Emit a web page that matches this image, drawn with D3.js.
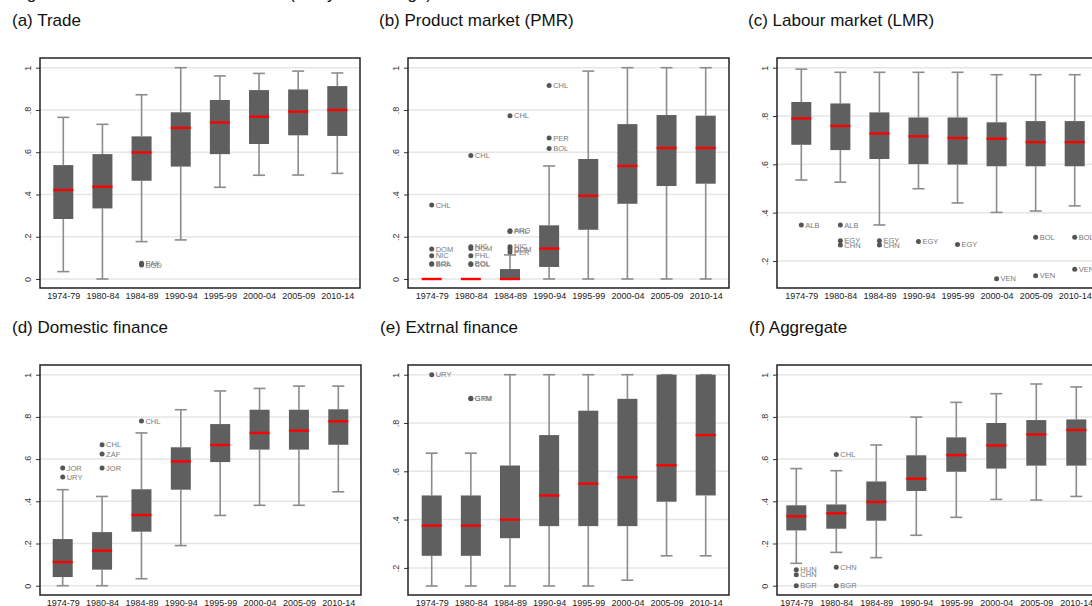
<!DOCTYPE html>
<html>
<head>
<meta charset="utf-8">
<script src="https://cdn.jsdelivr.net/npm/d3@7"></script>
<style>
  body { margin: 0; background: #fff; }
  svg { display: block; }
  text { font-family: "Liberation Sans", Arial, Helvetica, sans-serif; }
</style>
</head>
<body>
<div id="Vis"></div>
<script>
// periods on the x axis
var periods = ["1974-79", "1980-84", "1984-89", "1990-94", "1995-99", "2000-04", "2005-09", "2010-14"];

// box stats per period: [lower whisker, q1, median, q3, upper whisker]
var trade = [
  [0.035, 0.284, 0.421, 0.539, 0.765],
  [0.000, 0.334, 0.437, 0.591, 0.732],
  [0.177, 0.465, 0.599, 0.675, 0.872],
  [0.185, 0.532, 0.715, 0.789, 1.000],
  [0.434, 0.591, 0.741, 0.847, 0.961],
  [0.491, 0.639, 0.768, 0.894, 0.973],
  [0.492, 0.680, 0.792, 0.897, 0.984],
  [0.500, 0.677, 0.800, 0.913, 0.975]
];
var tradeOut = [["1984-89", 0.075, "PAK"], ["1984-89", 0.066, "BGD"]];

var pmr = [
  [0, 0, 0, 0, 0],
  [0, 0, 0, 0, 0],
  [0, 0, 0, 0.047, 0.114],
  [0, 0.057, 0.144, 0.254, 0.535],
  [0, 0.233, 0.394, 0.568, 0.984],
  [0, 0.356, 0.535, 0.733, 1.000],
  [0, 0.440, 0.620, 0.776, 1.000],
  [0, 0.451, 0.620, 0.773, 1.000]
];
var pmrOut = [
  ["1974-79", 0.350, "CHL"], ["1974-79", 0.142, "DOM"], ["1974-79", 0.110, "NIC"],
  ["1974-79", 0.072, "BOL"], ["1974-79", 0.070, "BRA"],
  ["1980-84", 0.585, "CHL"], ["1980-84", 0.153, "NIC"], ["1980-84", 0.144, "DOM"],
  ["1980-84", 0.110, "PHL"], ["1980-84", 0.072, "BOL"], ["1980-84", 0.069, "COL"],
  ["1984-89", 0.773, "CHL"], ["1984-89", 0.228, "ARG"], ["1984-89", 0.225, "PHL"],
  ["1984-89", 0.153, "NIC"], ["1984-89", 0.142, "DOM"], ["1984-89", 0.128, "PER"],
  ["1990-94", 0.916, "CHL"], ["1990-94", 0.667, "PER"], ["1990-94", 0.618, "BOL"]
];

var lmr = [
  [0.535, 0.681, 0.790, 0.858, 0.994],
  [0.526, 0.659, 0.759, 0.852, 0.981],
  [0.349, 0.622, 0.728, 0.815, 0.981],
  [0.499, 0.601, 0.716, 0.794, 0.981],
  [0.440, 0.599, 0.709, 0.794, 0.981],
  [0.401, 0.592, 0.706, 0.774, 0.971],
  [0.407, 0.592, 0.692, 0.779, 0.971],
  [0.428, 0.592, 0.692, 0.779, 0.971]
];
var lmrOut = [
  ["1974-79", 0.349, "ALB"],
  ["1980-84", 0.349, "ALB"], ["1980-84", 0.284, "EGY"], ["1980-84", 0.266, "CHN"],
  ["1984-89", 0.284, "EGY"], ["1984-89", 0.266, "CHN"],
  ["1990-94", 0.281, "EGY"],
  ["1995-99", 0.268, "EGY"],
  ["2000-04", 0.126, "VEN"],
  ["2005-09", 0.298, "BOL"], ["2005-09", 0.139, "VEN"],
  ["2010-14", 0.298, "BOL"], ["2010-14", 0.166, "VEN"]
];

var domFin = [
  [0.000, 0.041, 0.112, 0.221, 0.455],
  [0.000, 0.076, 0.166, 0.254, 0.423],
  [0.033, 0.256, 0.335, 0.457, 0.724],
  [0.190, 0.455, 0.589, 0.656, 0.834],
  [0.333, 0.586, 0.667, 0.766, 0.923],
  [0.381, 0.645, 0.724, 0.834, 0.935],
  [0.381, 0.645, 0.735, 0.834, 0.946],
  [0.445, 0.668, 0.779, 0.836, 0.946]
];
var domFinOut = [
  ["1974-79", 0.558, "JOR"], ["1974-79", 0.515, "URY"],
  ["1980-84", 0.668, "CHL"], ["1980-84", 0.624, "ZAF"], ["1980-84", 0.558, "JOR"],
  ["1984-89", 0.780, "CHL"]
];

var extFin = [
  [0.125, 0.250, 0.375, 0.500, 0.675],
  [0.125, 0.250, 0.375, 0.500, 0.675],
  [0.125, 0.323, 0.400, 0.624, 1.000],
  [0.125, 0.373, 0.500, 0.750, 1.000],
  [0.125, 0.373, 0.549, 0.851, 1.000],
  [0.149, 0.373, 0.575, 0.900, 1.000],
  [0.250, 0.474, 0.625, 1.000, 1.000],
  [0.250, 0.500, 0.750, 1.000, 1.000]
];
var extFinOut = [["1974-79", 1.000, "URY"], ["1980-84", 0.902, "GRM"], ["1980-84", 0.900, "GTM"]];

var aggregate = [
  [0.106, 0.262, 0.329, 0.381, 0.555],
  [0.158, 0.270, 0.343, 0.385, 0.545],
  [0.133, 0.308, 0.397, 0.494, 0.667],
  [0.239, 0.449, 0.507, 0.618, 0.799],
  [0.324, 0.540, 0.619, 0.703, 0.869],
  [0.409, 0.555, 0.665, 0.771, 0.910],
  [0.406, 0.569, 0.717, 0.785, 0.956],
  [0.423, 0.569, 0.738, 0.788, 0.942]
];
var aggregateOut = [
  ["1974-79", 0.076, "HUN"], ["1974-79", 0.052, "CHN"], ["1974-79", 0.000, "BGR"],
  ["1980-84", 0.622, "CHL"], ["1980-84", 0.087, "CHN"], ["1980-84", 0.000, "BGR"]
];

var yTicks = [0, 0.2, 0.4, 0.6, 0.8, 1];

// panel layout (pixel frame of each plot region)
var panels = [
  {title: "(a) Trade", stats: trade, out: tradeOut,
   tx: 12, ty: 26, left: 40, right: 360, top: 58, bottom: 288, x0: 63.3, x1: 337.3, y0: 279, y1: 67.7},
  {title: "(b) Product market (PMR)", stats: pmr, out: pmrOut,
   tx: 379, ty: 26, left: 408, right: 729, top: 58, bottom: 288, x0: 431.7, x1: 705.7, y0: 279, y1: 67.7},
  {title: "(c) Labour market (LMR)", stats: lmr, out: lmrOut,
   tx: 748, ty: 26, left: 777, right: 1099, top: 58, bottom: 288, x0: 801.3, x1: 1074.7, y0: 309.3, y1: 67.7},
  {title: "(d) Domestic finance", stats: domFin, out: domFinOut,
   tx: 12, ty: 333, left: 40, right: 361, top: 365, bottom: 595, x0: 62.7, x1: 338.3, y0: 585.7, y1: 374.7},
  {title: "(e) Extrnal finance", stats: extFin, out: extFinOut,
   tx: 380, ty: 333, left: 408, right: 729, top: 365, bottom: 595, x0: 431.7, x1: 705.7, y0: 616.2, y1: 374.7},
  {title: "(f) Aggregate", stats: aggregate, out: aggregateOut,
   tx: 749, ty: 333, left: 777, right: 1098, top: 365, bottom: 595, x0: 796.3, x1: 1076.3, y0: 585.7, y1: 374.7}
];

var svg = d3.select("#Vis")
  .append("svg")
    .attr("width", 1092)
    .attr("height", 606);

// figure title, mostly cut off at the top of the picture
svg.append("text")
  .attr("x", 432)
  .attr("y", -1)
  .attr("text-anchor", "end")
  .attr("font-size", "17px")
  .attr("fill", "#111")
  .text("Figure 3: Evolution of the six indices (five-year average)");

function fmt(t) {
  if (t === 0) return "0";
  if (t === 1) return "1";
  return d3.format(".1f")(t).replace(/^0/, "");
}

panels.forEach(function(p) {
  var g = svg.append("g");

  var x = d3.scalePoint().domain(periods).range([p.x0, p.x1]);
  var y = d3.scaleLinear().domain([0, 1]).range([p.y0, p.y1]);
  var ticks = yTicks.filter(function(t) { return y(t) >= p.top && y(t) <= p.bottom; });

  // title
  g.append("text")
    .attr("x", p.tx)
    .attr("y", p.ty)
    .attr("font-size", "17px")
    .attr("fill", "#111")
    .text(p.title);

  // grid lines
  g.selectAll(".grid").data(ticks).enter().append("line")
    .attr("x1", p.left).attr("x2", p.right)
    .attr("y1", function(d) { return y(d); })
    .attr("y2", function(d) { return y(d); })
    .attr("stroke", "#e6e6e6")
    .attr("stroke-width", 1.5);

  // y axis, labels turned like Stata does
  var ya = g.append("g")
    .attr("transform", "translate(" + p.left + ",0)")
    .call(d3.axisLeft(y).tickValues(ticks).tickSize(4).tickFormat(fmt));
  ya.select(".domain").remove();
  ya.selectAll(".tick line").attr("stroke", "#333");
  ya.selectAll(".tick text")
    .attr("x", null).attr("dy", null)
    .attr("transform", "translate(-9.5,0) rotate(-90)")
    .attr("text-anchor", "middle")
    .attr("font-size", "9px")
    .attr("font-family", null)
    .attr("fill", "#333");

  // x axis labels
  var xa = g.append("g")
    .attr("transform", "translate(0," + p.bottom + ")")
    .call(d3.axisBottom(x).tickSize(0).tickPadding(4.5));
  xa.select(".domain").remove();
  xa.selectAll(".tick text")
    .attr("font-size", "9px")
    .attr("font-family", null)
    .attr("fill", "#222");

  var data = periods.map(function(per, i) { return {p: per, s: p.stats[i]}; });

  // whiskers
  var wk = g.selectAll(".whisk").data(data).enter().append("g")
    .attr("stroke", "#8c8c8c")
    .attr("stroke-width", 1.6);
  wk.append("line")
    .attr("x1", function(d) { return x(d.p); }).attr("x2", function(d) { return x(d.p); })
    .attr("y1", function(d) { return y(d.s[3]); }).attr("y2", function(d) { return y(d.s[4]); });
  wk.append("line")
    .attr("x1", function(d) { return x(d.p); }).attr("x2", function(d) { return x(d.p); })
    .attr("y1", function(d) { return y(d.s[1]); }).attr("y2", function(d) { return y(d.s[0]); });
  wk.append("line")
    .attr("x1", function(d) { return x(d.p) - 6; }).attr("x2", function(d) { return x(d.p) + 6; })
    .attr("y1", function(d) { return y(d.s[4]); }).attr("y2", function(d) { return y(d.s[4]); });
  wk.append("line")
    .attr("x1", function(d) { return x(d.p) - 6; }).attr("x2", function(d) { return x(d.p) + 6; })
    .attr("y1", function(d) { return y(d.s[0]); }).attr("y2", function(d) { return y(d.s[0]); });

  // boxes
  g.selectAll(".box").data(data).enter().append("rect")
    .attr("x", function(d) { return x(d.p) - 10; })
    .attr("width", 20)
    .attr("y", function(d) { return y(d.s[3]); })
    .attr("height", function(d) { return y(d.s[1]) - y(d.s[3]); })
    .attr("fill", "#5f5f5f");

  // medians
  g.selectAll(".med").data(data).enter().append("line")
    .attr("x1", function(d) { return x(d.p) - 10; })
    .attr("x2", function(d) { return x(d.p) + 10; })
    .attr("y1", function(d) { return y(d.s[2]); })
    .attr("y2", function(d) { return y(d.s[2]); })
    .attr("stroke", "#ff0000")
    .attr("stroke-width", 2.4);

  // outliers with country codes
  g.selectAll(".dot").data(p.out).enter().append("circle")
    .attr("cx", function(d) { return x(d[0]); })
    .attr("cy", function(d) { return y(d[1]); })
    .attr("r", 2.5)
    .attr("fill", "#555");
  g.selectAll(".lab").data(p.out).enter().append("text")
    .attr("x", function(d) { return x(d[0]) + 4; })
    .attr("y", function(d) { return y(d[1]); })
    .attr("dy", "0.35em")
    .attr("font-size", "7.5px")
    .attr("fill", "#7a7a7a")
    .text(function(d) { return d[2]; });

  // plot region frame
  g.append("rect")
    .attr("x", p.left).attr("y", p.top)
    .attr("width", p.right - p.left)
    .attr("height", p.bottom - p.top)
    .attr("fill", "none")
    .attr("stroke", "#222")
    .attr("stroke-width", 1.5);
});
</script>
</body>
</html>
